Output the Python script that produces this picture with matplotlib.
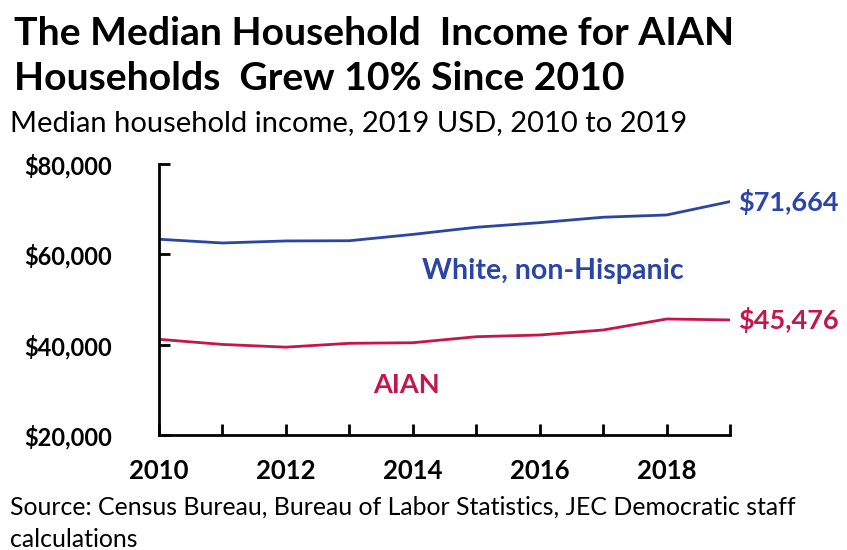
import matplotlib.pyplot as plt

years = [2010, 2011, 2012, 2013, 2014, 2015, 2016, 2017, 2018, 2019]
white = [63330, 62500, 62950, 63000, 64400, 65980, 67000, 68200, 68700, 71664]
aian = [41190, 40050, 39450, 40300, 40430, 41760, 42140, 43250, 45680, 45476]

blue = '#2B45A6'
red = '#C5164B'

plt.rcParams['font.family'] = ['Lato', 'DejaVu Sans']

fig = plt.figure(figsize=(8.47, 5.5), dpi=100)
ax = fig.add_axes([0.1877, 0.209, 0.862 - 0.1877, 0.702 - 0.209])

ax.plot(years, white, color=blue, lw=2)
ax.plot(years, aian, color=red, lw=2)

ax.set_xlim(2010, 2019)
ax.set_ylim(20000, 80000)
ax.set_yticks([20000, 40000, 60000, 80000])
ax.set_yticklabels(['$20,000', '$40,000', '$60,000', '$80,000'],
                   fontsize=17, fontweight='bold')
ax.set_xticks(years)
ax.set_xticklabels([str(y) if y % 2 == 0 else '' for y in years],
                   fontsize=18.5, fontweight='bold')
ax.tick_params(axis='both', direction='in', length=8, width=2, colors='black')
ax.tick_params(axis='y', pad=34)
ax.tick_params(axis='x', pad=17)
for s in ['top', 'right']:
    ax.spines[s].set_visible(False)
for s in ['left', 'bottom']:
    ax.spines[s].set_linewidth(2)

ax.text(2019.13, white[-1], '$71,664', color=blue, fontsize=19.5, fontweight='bold',
        va='center', ha='left')
ax.text(2019.13, aian[-1], '$45,476', color=red, fontsize=19.5, fontweight='bold',
        va='center', ha='left')
ax.text(2016.2, 56400, 'White, non-Hispanic', color=blue, fontsize=20.5,
        fontweight='bold', ha='center', va='center')
ax.text(2013.9, 31000, 'AIAN', color=red, fontsize=19.5,
        fontweight='bold', ha='center', va='center')

fig.text(0.016, 0.918, 'The Median Household  Income for AIAN', fontsize=28.2,
         fontweight='bold')
fig.text(0.016, 0.836, 'Households  Grew 10% Since 2010', fontsize=28.2,
         fontweight='bold')
fig.text(0.012, 0.762, 'Median household income, 2019 USD, 2010 to 2019',
         fontsize=21)
fig.text(0.012, 0.065, 'Source: Census Bureau, Bureau of Labor Statistics, JEC Democratic staff',
         fontsize=17.9)
fig.text(0.012, 0.006, 'calculations', fontsize=17.9)

fig.savefig('out.png', dpi=100)
